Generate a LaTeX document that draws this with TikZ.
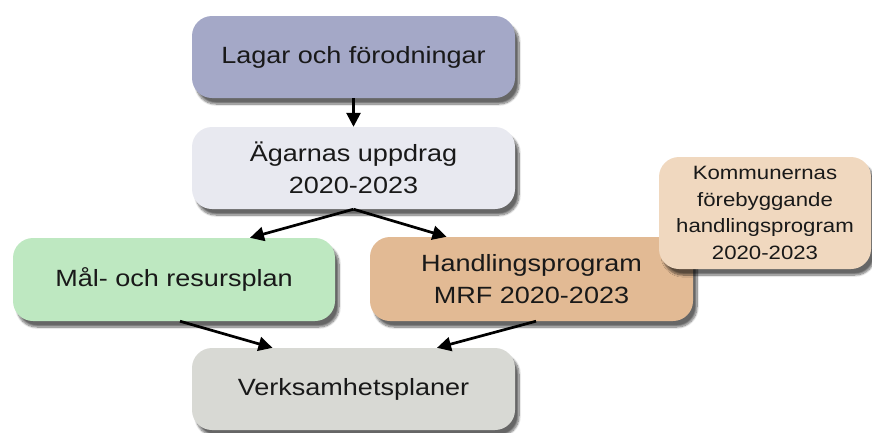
\documentclass[tikz,border=0pt]{standalone}
\usepackage{fontspec}
\setmainfont{Liberation Sans}[FakeStretch=1.15]
\usepackage{xcolor}
\usetikzlibrary{arrows.meta,shadows.blur}

\definecolor{lagfarg}{HTML}{A4A8C7}
\definecolor{agarfarg}{HTML}{E8E9F0}
\definecolor{malfarg}{HTML}{BEE8C1}
\definecolor{hpfarg}{HTML}{E2BA94}
\definecolor{komfarg}{HTML}{F0D8BF}
\definecolor{verkfarg}{HTML}{D8D9D4}

\begin{document}
\begin{tikzpicture}[x=1pt,y=-1pt,
		box/.style={rounded corners=20pt, minimum width=323pt, minimum height=82pt,
			inner sep=0pt, align=center, text=black!90,
			font=\fontsize{23.5}{31.7}\selectfont,
			blur shadow={shadow xshift=4pt, shadow yshift=-6pt, shadow blur steps=10, shadow opacity=60}},
		pil/.style={-{Triangle[length=14pt,width=14pt]}, line width=2.7pt}]
		\useasboundingbox (0,0) rectangle (872,432);
		% top row
		\node[box, fill=lagfarg] (lagar) at (353.5,57) {Lagar och förodningar};
		\node[box, fill=agarfarg] (agare) at (353.5,168) {Ägarnas uppdrag\\2020-2023};
		% plans
		\node[box, fill=malfarg, minimum width=322pt, minimum height=83pt] (mal) at (174,279.5) {Mål- och resursplan};
		\node[box, fill=hpfarg, minimum height=84pt] (hp) at (531.5,279) {Handlingsprogram\\MRF 2020-2023};
		\node[box, fill=komfarg, minimum width=212pt, minimum height=112pt,
			font=\fontsize{19.3}{26.5}\selectfont] (kom) at (765,213)
			{Kommunernas\\förebyggande\\handlingsprogram\\2020-2023};
		% bottom
		\node[box, fill=verkfarg] (verk) at (353.5,389) {Verksamhetsplaner};
		% arrows
		\draw[pil] (lagar.south) -- (agare.north);
		\draw[pil] (agare.south) -- ([xshift=76pt]mal.north);
		\draw[pil] (agare.south) -- ([xshift=-85pt]hp.north);
		\draw[pil] ([xshift=6pt]mal.south) -- ([xshift=-81pt]verk.north);
		\draw[pil] ([xshift=4.5pt]hp.south) -- ([xshift=83.5pt]verk.north);
	\end{tikzpicture}
\end{document}
